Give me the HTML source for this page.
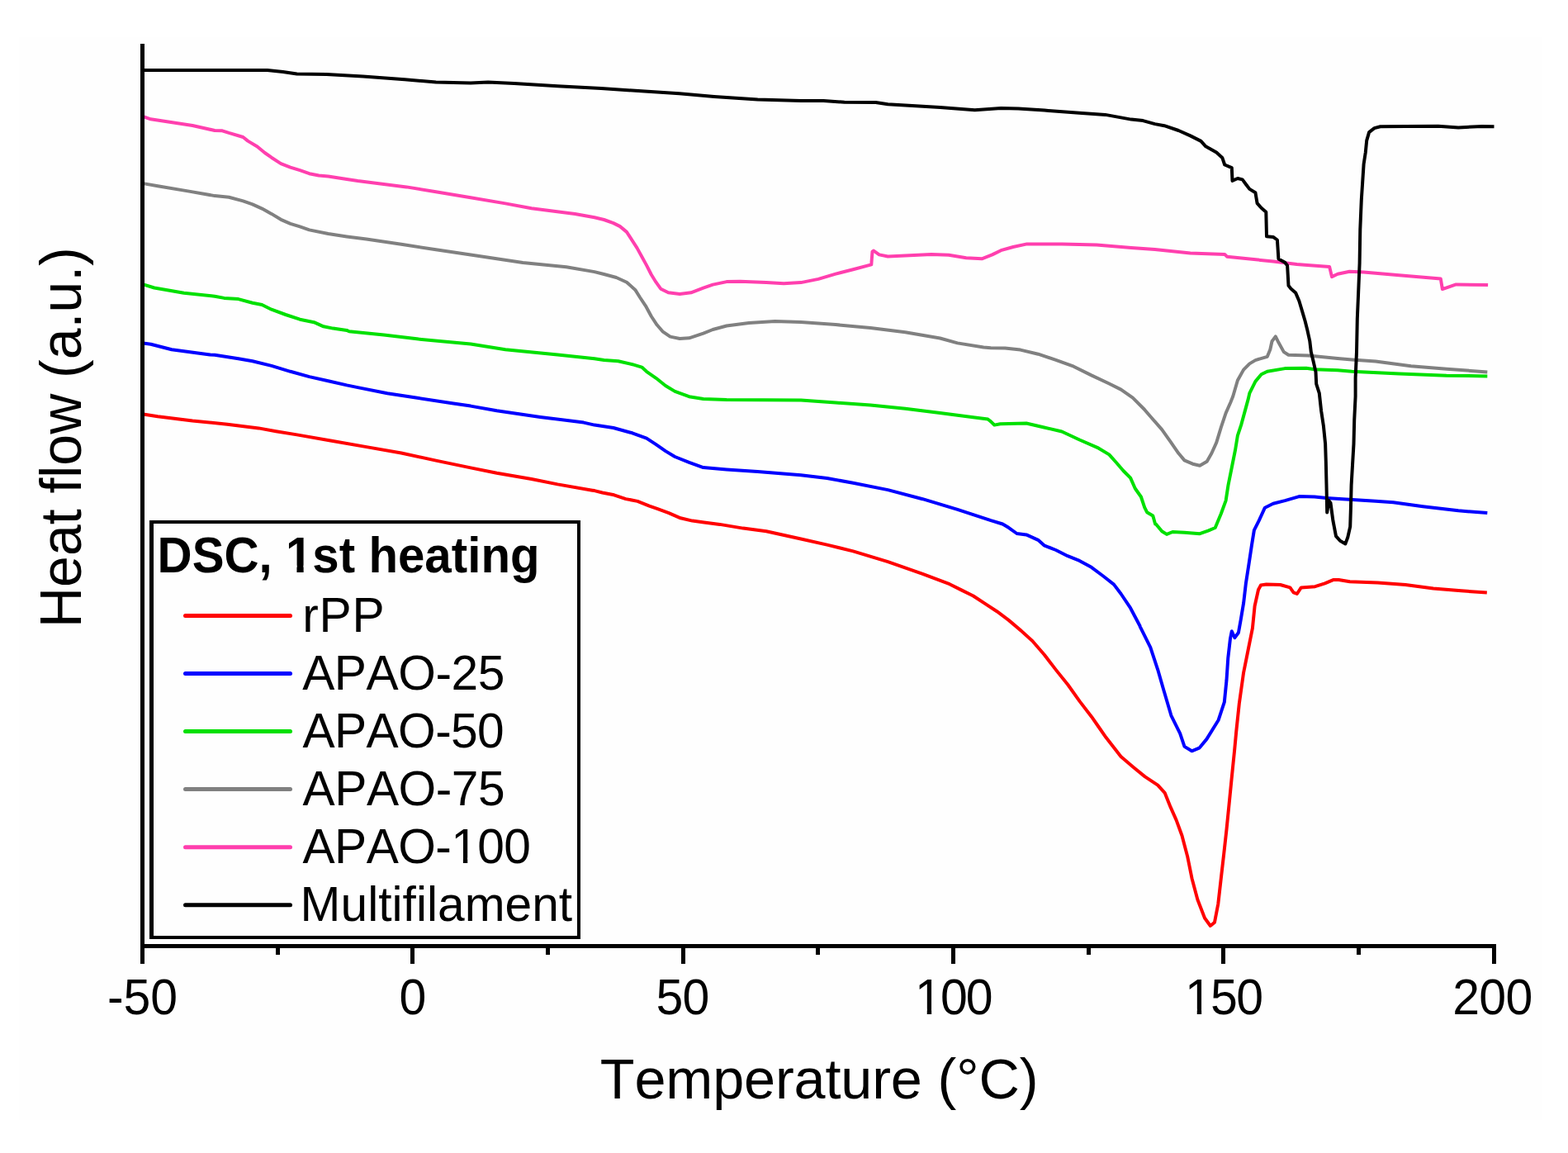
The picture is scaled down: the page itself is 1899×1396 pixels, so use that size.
<!DOCTYPE html>
<html><head><meta charset="utf-8"><title>DSC, 1st heating</title>
<style>html,body{margin:0;padding:0;background:#fff;} svg{display:block;} text{font-kerning:none;}</style>
</head><body>
<svg width="1899" height="1396" viewBox="0 0 1899 1396">
<rect x="0" y="0" width="1899" height="1396" fill="#ffffff"/>
<rect x="23" y="45" width="1845" height="1311" fill="#fefefe"/>
<polyline points="173.5,501.5 191.0,504.3 233.2,509.5 275.3,513.7 313.2,518.4 334.3,522.2 359.6,526.4 401.7,533.8 443.8,541.1 486.0,548.5 528.0,557.6 570.0,566.4 601.6,572.7 643.7,580.0 675.3,586.4 717.4,593.7 720.0,594.1 729.5,596.5 743.7,599.3 757.9,604.1 772.1,606.9 786.4,612.6 795.8,615.9 810.0,621.1 824.3,627.3 838.5,630.6 852.7,632.5 871.7,634.9 900.0,639.6 928.1,643.2 970.0,652.5 1001.6,659.6 1033.2,667.4 1075.3,680.1 1117.4,694.8 1150.0,707.2 1164.3,714.4 1178.7,721.5 1193.0,730.9 1207.3,740.2 1221.6,750.9 1236.0,763.1 1250.3,776.0 1264.6,792.5 1278.9,811.1 1293.3,829.0 1307.6,849.1 1321.9,867.7 1330.5,880.0 1339.6,893.1 1357.5,916.0 1373.0,929.2 1386.7,940.4 1402.2,950.7 1410.8,960.2 1417.7,977.4 1424.6,992.9 1431.5,1011.8 1438.3,1037.6 1443.5,1063.4 1450.4,1089.2 1459.0,1111.5 1465.9,1121.0 1471.0,1116.7 1475.3,1094.3 1478.8,1063.4 1482.2,1034.1 1485.6,1003.2 1488.2,977.4 1491.6,943.0 1495.1,908.6 1497.2,886.0 1500.8,852.0 1506.1,814.3 1511.5,787.5 1516.9,760.6 1519.6,733.7 1524.0,714.0 1527.0,708.5 1533.7,707.5 1550.6,708.0 1562.4,711.4 1566.6,717.3 1570.8,719.0 1575.8,711.4 1592.7,710.2 1604.5,706.3 1614.6,702.1 1621.3,702.1 1634.8,704.2 1668.5,705.5 1702.2,708.0 1735.9,712.6 1769.6,715.3 1800.8,717.6" fill="none" stroke="#ff0000" stroke-width="4.0" stroke-linejoin="round" stroke-linecap="butt"/>
<polyline points="173.5,415.5 182.6,416.7 207.9,423.2 254.3,429.5 260.0,429.7 288.7,434.3 305.8,437.2 328.8,442.9 351.7,449.8 374.6,456.1 397.5,461.2 420.0,466.4 433.3,469.1 469.1,476.3 507.0,482.1 549.2,488.5 570.0,491.6 601.6,497.3 654.3,504.9 706.9,511.6 720.0,514.6 742.9,518.0 765.8,524.3 783.0,530.6 794.5,538.1 806.0,546.1 817.4,553.0 834.6,559.8 851.8,566.1 880.0,568.4 917.6,571.0 970.0,575.3 1001.6,579.0 1033.2,584.7 1075.3,593.1 1117.4,604.2 1159.6,616.9 1200.0,630.2 1214.3,634.5 1221.5,638.8 1231.5,646.0 1243.0,647.4 1257.3,653.8 1264.5,660.3 1278.8,666.0 1293.1,673.2 1307.4,678.9 1321.8,686.8 1336.1,697.5 1349.0,707.6 1357.6,719.0 1369.1,736.2 1380.5,757.7 1380.8,758.8 1393.3,783.9 1402.2,810.8 1409.4,835.8 1418.4,866.3 1429.1,887.8 1434.5,903.9 1443.4,909.3 1452.4,905.7 1461.4,894.9 1475.7,871.7 1482.8,850.2 1485.5,823.3 1487.3,796.4 1490.0,773.1 1491.8,764.2 1495.4,772.2 1499.9,766.0 1502.5,751.6 1506.1,730.2 1508.8,706.9 1512.4,683.6 1516.1,659.1 1518.9,641.9 1524.7,630.4 1531.9,614.7 1541.9,609.7 1556.2,606.1 1573.4,601.1 1592.1,601.5 1606.4,602.9 1630.1,604.6 1666.0,606.8 1687.4,608.2 1723.3,613.2 1766.2,618.3 1801.3,621.1" fill="none" stroke="#0000ff" stroke-width="4.0" stroke-linejoin="round" stroke-linecap="butt"/>
<polyline points="173.5,344.3 186.9,348.5 222.7,354.8 260.0,358.7 271.5,360.9 288.7,362.1 305.8,366.7 317.3,369.0 328.8,374.7 346.0,381.0 363.2,386.7 380.3,390.2 391.8,395.3 403.3,397.6 420.0,399.9 422.8,401.2 464.9,405.4 507.0,410.6 570.0,416.5 612.1,423.2 675.3,429.5 720.0,434.3 731.5,436.0 748.7,437.2 765.8,441.2 777.3,444.6 783.0,449.8 794.5,457.8 806.0,467.0 817.4,473.9 834.6,480.2 851.8,483.0 880.0,484.0 970.0,484.6 1012.1,487.5 1054.3,490.6 1096.4,494.8 1138.5,500.1 1180.6,505.4 1196.4,507.5 1200.0,510.3 1204.3,514.6 1211.5,513.2 1243.0,512.5 1264.5,517.5 1286.0,522.5 1307.4,532.5 1328.9,541.8 1343.3,550.4 1351.9,560.0 1360.5,570.0 1369.1,578.6 1374.8,591.5 1381.9,601.5 1386.2,614.4 1389.1,620.2 1396.3,624.5 1399.1,634.5 1400.1,634.7 1407.2,643.3 1413.0,646.9 1420.1,644.0 1434.5,644.8 1453.1,646.2 1463.1,642.6 1471.7,639.0 1478.9,621.8 1484.6,606.1 1487.5,587.4 1491.8,566.0 1496.1,544.5 1498.9,527.3 1503.2,514.4 1507.5,498.6 1511.8,482.9 1513.3,476.2 1520.4,461.9 1527.6,453.3 1534.8,449.7 1556.2,446.1 1582.0,445.8 1592.1,447.3 1620.0,448.3 1637.3,449.7 1694.6,452.6 1751.9,454.7 1801.3,455.4" fill="none" stroke="#00e000" stroke-width="4.0" stroke-linejoin="round" stroke-linecap="butt"/>
<polyline points="173.5,222.1 191.1,225.3 229.0,231.6 260.0,237.1 277.2,238.8 294.4,243.4 305.8,247.4 317.3,252.6 328.8,258.9 340.2,265.8 351.7,270.9 363.2,274.4 374.6,278.4 397.5,283.0 420.0,286.4 443.8,289.5 486.0,295.8 528.0,302.2 570.0,308.6 633.2,318.0 685.9,323.2 720.0,329.1 731.5,332.0 746.4,336.0 759.0,341.7 769.3,350.9 775.0,360.0 781.9,370.3 788.8,383.0 795.6,393.3 802.5,401.3 811.7,407.6 823.2,410.0 834.6,409.3 851.8,403.6 863.3,399.0 880.0,394.5 907.0,391.0 938.6,389.1 970.0,390.0 1012.1,393.1 1054.3,396.9 1096.4,402.2 1138.5,409.5 1159.6,415.4 1191.2,420.5 1200.0,421.2 1217.2,421.5 1235.8,423.6 1257.3,428.7 1278.8,435.8 1300.3,443.7 1321.8,454.4 1343.3,464.5 1357.6,471.6 1371.9,481.7 1386.2,496.0 1387.2,497.2 1397.2,508.7 1407.2,520.1 1417.3,534.4 1427.3,548.8 1434.5,557.4 1444.5,561.7 1453.1,563.8 1461.7,558.8 1467.4,548.8 1473.2,535.9 1478.9,517.2 1484.6,500.1 1490.3,487.2 1493.2,480.0 1498.9,460.5 1506.1,447.6 1513.3,440.4 1520.4,436.1 1534.8,431.8 1538.3,423.2 1540.5,413.2 1544.8,407.4 1547.7,413.2 1554.8,426.1 1560.5,429.7 1584.9,430.4 1620.0,434.0 1637.3,435.4 1666.0,437.5 1708.9,443.3 1751.9,446.8 1801.3,450.4" fill="none" stroke="#808080" stroke-width="4.0" stroke-linejoin="round" stroke-linecap="butt"/>
<polyline points="173.5,141.1 182.6,144.3 233.2,152.0 260.0,158.0 269.2,158.3 277.2,160.9 294.4,166.0 300.1,170.6 311.6,177.5 320.7,185.0 328.8,190.7 340.2,198.1 351.7,202.7 363.2,206.2 374.6,210.2 386.1,212.5 397.5,213.6 420.0,217.0 433.3,219.0 492.3,226.4 528.0,232.3 570.0,239.3 612.1,246.4 643.7,252.3 696.4,259.0 720.0,263.2 731.5,266.0 742.9,270.1 750.9,274.1 759.0,280.9 765.8,291.3 771.6,300.4 777.3,310.7 783.0,321.1 788.8,332.5 794.5,341.7 800.2,349.7 809.4,354.3 823.2,356.0 836.9,354.3 851.8,348.6 863.3,344.6 880.0,341.1 896.5,340.7 928.1,342.1 949.2,343.2 970.0,342.1 991.1,337.9 1012.1,331.6 1033.2,326.3 1055.3,320.4 1056.5,304.6 1058.0,303.5 1064.8,308.4 1075.3,310.5 1096.4,309.5 1128.0,308.0 1149.0,308.8 1170.1,312.2 1189.1,313.3 1201.7,308.4 1212.2,303.2 1227.0,299.0 1243.8,295.4 1286.0,295.4 1328.1,296.4 1370.0,300.0 1398.7,302.1 1441.6,306.4 1483.2,307.9 1486.0,310.7 1541.9,316.5 1570.6,320.1 1580.0,320.8 1610.1,322.9 1613.0,335.1 1620.1,331.8 1634.4,328.7 1651.6,329.4 1694.6,333.2 1744.8,337.5 1746.9,350.1 1763.4,344.4 1802.1,345.1" fill="none" stroke="#ff3fae" stroke-width="4.0" stroke-linejoin="round" stroke-linecap="butt"/>
<polyline points="174.0,84.9 323.8,84.9 342.7,87.0 359.6,89.5 395.4,90.1 439.6,92.6 490.2,96.2 528.0,99.6 570.0,100.4 591.1,99.4 622.7,101.1 675.3,104.2 728.0,107.0 780.6,110.5 822.8,113.3 864.9,116.9 917.6,120.4 970.0,122.1 997.4,122.0 1022.7,123.7 1060.6,124.1 1075.3,126.2 1138.5,130.0 1180.6,133.2 1212.2,131.1 1233.3,131.5 1264.9,133.6 1307.0,136.8 1338.6,138.9 1370.0,144.6 1384.3,146.1 1398.7,150.1 1410.1,152.2 1427.3,158.0 1441.6,164.4 1454.5,170.9 1460.3,177.3 1473.2,184.5 1480.3,190.9 1483.2,199.5 1491.8,203.1 1492.5,218.9 1498.9,216.0 1504.7,217.4 1509.0,223.2 1513.3,228.9 1520.4,233.2 1522.6,246.1 1527.6,251.8 1533.3,256.8 1534.0,286.2 1541.9,286.9 1546.9,290.5 1548.4,313.4 1556.2,317.7 1559.1,321.5 1560.5,345.8 1563.4,349.4 1569.1,354.4 1573.4,364.5 1577.7,378.8 1580.6,388.8 1583.5,400.3 1586.3,413.2 1587.8,426.1 1590.6,437.5 1593.5,450.4 1594.2,464.8 1597.8,476.2 1600.1,497.2 1602.9,515.8 1605.1,537.3 1605.8,558.8 1606.5,587.4 1607.2,620.4 1609.4,606.1 1611.5,608.9 1614.4,630.4 1618.0,649.1 1623.0,654.8 1629.4,658.4 1632.3,650.5 1635.2,637.6 1635.9,616.1 1636.6,587.4 1638.0,563.1 1639.5,537.3 1640.2,508.7 1641.6,480.0 1641.6,457.6 1643.0,426.1 1643.8,386.0 1645.2,353.0 1646.6,318.6 1647.3,277.6 1648.8,241.8 1650.2,220.3 1651.6,198.8 1653.8,184.5 1655.2,170.1 1658.1,160.1 1664.5,155.1 1671.7,153.2 1701.8,153.0 1741.9,152.7 1766.2,154.4 1794.9,153.0 1809.5,153.2" fill="none" stroke="#000000" stroke-width="4.0" stroke-linejoin="round" stroke-linecap="butt"/>
<rect x="170" y="53" width="5" height="1095" fill="#000"/>
<rect x="170" y="1143" width="1642" height="5" fill="#000"/>
<rect x="170" y="1148" width="5" height="19" fill="#000"/>
<rect x="334" y="1148" width="5" height="8" fill="#000"/>
<rect x="497" y="1148" width="5" height="19" fill="#000"/>
<rect x="661" y="1148" width="5" height="8" fill="#000"/>
<rect x="825" y="1148" width="5" height="19" fill="#000"/>
<rect x="988" y="1148" width="5" height="8" fill="#000"/>
<rect x="1152" y="1148" width="5" height="19" fill="#000"/>
<rect x="1316" y="1148" width="5" height="8" fill="#000"/>
<rect x="1479" y="1148" width="5" height="19" fill="#000"/>
<rect x="1643" y="1148" width="5" height="8" fill="#000"/>
<rect x="1807" y="1148" width="5" height="19" fill="#000"/>
<text id="t-50" x="0" y="0" transform="translate(130.00,1228.40) scale(1,1.045)" font-family="'Liberation Sans', Arial, Helvetica, sans-serif" font-weight="normal" font-size="59" fill="#000" textLength="85.06" lengthAdjust="spacing">-50</text>
<text id="t0" x="0" y="0" transform="translate(483.60,1228.40) scale(1,1.045)" font-family="'Liberation Sans', Arial, Helvetica, sans-serif" font-weight="normal" font-size="59" fill="#000">0</text>
<text id="t50" x="0" y="0" transform="translate(794.60,1228.40) scale(1,1.045)" font-family="'Liberation Sans', Arial, Helvetica, sans-serif" font-weight="normal" font-size="59" fill="#000" textLength="64.62" lengthAdjust="spacing">50</text>
<text id="t100" x="0" y="0" transform="translate(1108.00,1228.40) scale(1,1.045)" font-family="'Liberation Sans', Arial, Helvetica, sans-serif" font-weight="normal" font-size="59" fill="#000" textLength="94.62" lengthAdjust="spacing">100</text>
<text id="t150" x="0" y="0" transform="translate(1435.00,1228.40) scale(1,1.045)" font-family="'Liberation Sans', Arial, Helvetica, sans-serif" font-weight="normal" font-size="59" fill="#000" textLength="95.02" lengthAdjust="spacing">150</text>
<text id="t200" x="0" y="0" transform="translate(1759.20,1228.40) scale(1,1.045)" font-family="'Liberation Sans', Arial, Helvetica, sans-serif" font-weight="normal" font-size="59" fill="#000" textLength="97.02" lengthAdjust="spacing">200</text>
<text id="xt" x="0" y="0" transform="translate(726.80,1329.90) scale(1,1.01)" font-family="'Liberation Sans', Arial, Helvetica, sans-serif" font-weight="normal" font-size="68.4" fill="#000" textLength="530.61" lengthAdjust="spacing">Temperature (°C)</text>
<text id="yt" x="0" y="0" transform="translate(98.00,760.00) rotate(-90) scale(1,1.04)" font-family="'Liberation Sans', Arial, Helvetica, sans-serif" font-weight="normal" font-size="68.1" fill="#000" textLength="460.71" lengthAdjust="spacing">Heat flow (a.u.)</text>
<text id="lt" x="0" y="0" transform="translate(190.60,692.90) scale(1,1.05)" font-family="'Liberation Sans', Arial, Helvetica, sans-serif" font-weight="bold" font-size="58.2" fill="#000" textLength="462.93" lengthAdjust="spacing">DSC, 1st heating</text>
<text id="l0" x="0" y="0" transform="translate(366.20,764.90) scale(1,1.015)" font-family="'Liberation Sans', Arial, Helvetica, sans-serif" font-weight="normal" font-size="58.7" fill="#000" textLength="99.43" lengthAdjust="spacing">rPP</text>
<text id="l1" x="0" y="0" transform="translate(366.20,834.95) scale(1,1.015)" font-family="'Liberation Sans', Arial, Helvetica, sans-serif" font-weight="normal" font-size="58.7" fill="#000" textLength="245.10" lengthAdjust="spacing">APAO-25</text>
<text id="l2" x="0" y="0" transform="translate(366.60,904.98) scale(1,1.015)" font-family="'Liberation Sans', Arial, Helvetica, sans-serif" font-weight="normal" font-size="58.7" fill="#000" textLength="244.10" lengthAdjust="spacing">APAO-50</text>
<text id="l3" x="0" y="0" transform="translate(366.60,975.00) scale(1,1.015)" font-family="'Liberation Sans', Arial, Helvetica, sans-serif" font-weight="normal" font-size="58.7" fill="#000" textLength="245.10" lengthAdjust="spacing">APAO-75</text>
<text id="l4" x="0" y="0" transform="translate(366.60,1045.00) scale(1,1.015)" font-family="'Liberation Sans', Arial, Helvetica, sans-serif" font-weight="normal" font-size="58.7" fill="#000" textLength="276.33" lengthAdjust="spacing">APAO-100</text>
<text id="l5" x="0" y="0" transform="translate(363.60,1115.10) scale(1,1.015)" font-family="'Liberation Sans', Arial, Helvetica, sans-serif" font-weight="normal" font-size="58.7" fill="#000" textLength="329.58" lengthAdjust="spacing">Multifilament</text>
<rect transform="translate(1108.00,1228.40) scale(1,1.045)" x="3.34" y="-6.42" width="11.41" height="7.62" fill="#fefefe"/>
<rect transform="translate(1108.00,1228.40) scale(1,1.045)" x="20.14" y="-6.42" width="10.95" height="7.62" fill="#fefefe"/>
<rect transform="translate(1435.00,1228.40) scale(1,1.045)" x="3.34" y="-6.42" width="11.41" height="7.62" fill="#fefefe"/>
<rect transform="translate(1435.00,1228.40) scale(1,1.045)" x="20.14" y="-6.42" width="10.95" height="7.62" fill="#fefefe"/>
<rect transform="translate(190.60,692.90) scale(1,1.05)" x="157.90" y="-7.93" width="10.97" height="9.13" fill="#fefefe"/>
<rect transform="translate(190.60,692.90) scale(1,1.05)" x="177.03" y="-7.93" width="10.23" height="9.13" fill="#fefefe"/>
<rect transform="translate(366.60,1045.00) scale(1,1.015)" x="182.93" y="-6.39" width="11.35" height="7.59" fill="#fefefe"/>
<rect transform="translate(366.60,1045.00) scale(1,1.015)" x="199.64" y="-6.39" width="10.89" height="7.59" fill="#fefefe"/>
<path d="M181 630H703V1137H181Z M186 634V1133H699V634Z" fill="#000" fill-rule="evenodd"/>
<line x1="224.5" y1="745.50" x2="351.5" y2="745.50" stroke="#ff0000" stroke-width="5" stroke-linecap="round"/>
<line x1="224.5" y1="815.54" x2="351.5" y2="815.54" stroke="#0000ff" stroke-width="5" stroke-linecap="round"/>
<line x1="224.5" y1="885.58" x2="351.5" y2="885.58" stroke="#00e000" stroke-width="5" stroke-linecap="round"/>
<line x1="224.5" y1="955.62" x2="351.5" y2="955.62" stroke="#808080" stroke-width="5" stroke-linecap="round"/>
<line x1="224.5" y1="1025.66" x2="351.5" y2="1025.66" stroke="#ff3fae" stroke-width="5" stroke-linecap="round"/>
<line x1="224.5" y1="1095.70" x2="351.5" y2="1095.70" stroke="#000000" stroke-width="5" stroke-linecap="round"/>
</svg>
</body></html>
